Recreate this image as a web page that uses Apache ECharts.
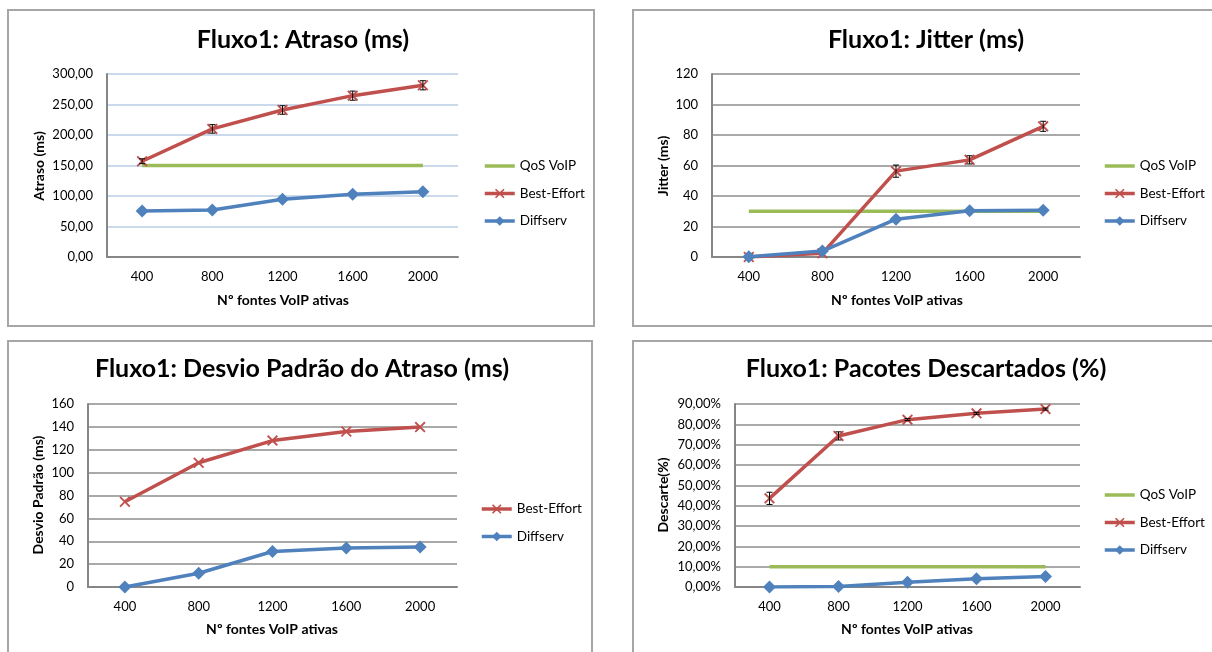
<!DOCTYPE html>
<html>
<head>
<meta charset="utf-8">
<script src="https://cdn.jsdelivr.net/npm/echarts@6/dist/echarts.min.js"></script>
<style>
html,body{margin:0;padding:0;background:#fff;}
#c{width:1212px;height:652px;}
</style>
</head>
<body>
<div id="c"></div>
<script>
// ---- data ----
var categories = ['400', '800', '1200', '1600', '2000'];

// Chart 1: Atraso (ms)
var atrasoQoS = [150, 150, 150, 150, 150];
var atrasoBE = [157, 210, 241, 264.5, 281.5];
var atrasoBEerr = [4, 7, 7, 7.5, 7.5];
var atrasoDS = [75.4, 77, 94.6, 102.8, 107];

// Chart 2: Jitter (ms)
var jitterQoS = [30, 30, 30, 30, 30];
var jitterBE = [0, 2.4, 56.3, 63.7, 85.7];
var jitterBEerr = [0, 0, 4, 2.7, 3.3];
var jitterDS = [0.2, 3.9, 24.8, 30.4, 30.7];

// Chart 3: Desvio Padrão do Atraso (ms)
var desvioBE = [74.5, 108.6, 128, 136, 139.8];
var desvioDS = [0, 12, 31, 34, 35];

// Chart 4: Pacotes Descartados (%)
var descQoS = [10, 10, 10, 10, 10];
var descBE = [43.6, 74.3, 82.3, 85.4, 87.5];
var descBEerr = [3, 2, 0.5, 0.5, 0.5];
var descDS = [0, 0.3, 2.3, 4.1, 5.2];

var titles = ['Fluxo1: Atraso (ms)', 'Fluxo1: Jitter (ms)', 'Fluxo1: Desvio Padrão do Atraso (ms)', 'Fluxo1: Pacotes Descartados (%)'];
var yNames = ['Atraso (ms)', 'Jitter (ms)', 'Desvio Padrão (ms)', 'Descarte(%)'];
var xName = 'Nº fontes VoIP ativas';

// ---- styles ----
var FONT = 'Lato';
var RED = '#c0504d', BLUE = '#4f81bd', GREEN = '#9bbb59';
var XPATH = 'path://M0,1.2L1.2,0L5,3.8L8.8,0L10,1.2L6.2,5L10,8.8L8.8,10L5,6.2L1.2,10L0,8.8L3.8,5Z';

var grids = [
  {left: 107, top: 74, width: 351, height: 183},
  {left: 712, top: 74, width: 368, height: 183},
  {left: 88, top: 404, width: 369, height: 183},
  {left: 735, top: 404, width: 345, height: 183}
];
var yAxes = [
  {min: 0, max: 300, interval: 50, fmt: function (v) { return v.toFixed(2).replace('.', ','); }, grid: '#b9cde5'},
  {min: 0, max: 120, interval: 20, fmt: function (v) { return String(v); }, grid: '#8c8c8c'},
  {min: 0, max: 160, interval: 20, fmt: function (v) { return String(v); }, grid: '#8c8c8c'},
  {min: 0, max: 90, interval: 10, fmt: function (v) { return v.toFixed(2).replace('.', ',') + '%'; }, grid: '#8c8c8c'}
];

var option = {
  animation: false,
  backgroundColor: '#fff',
  textStyle: {fontFamily: FONT},
  grid: grids.map(function (g) { return Object.assign({containLabel: false}, g); }),
  title: [
    {text: titles[0], left: 303, top: 40},
    {text: titles[1], left: 926, top: 40},
    {text: titles[2], left: 302, top: 369},
    {text: titles[3], left: 926, top: 369}
  ].map(function (t) {
    return {text: t.text, left: t.left, top: t.top, textAlign: 'center', textVerticalAlign: 'middle', padding: 0,
      textStyle: {fontFamily: FONT, fontWeight: 'bold', fontSize: 25, color: '#000'}};
  }),
  xAxis: grids.map(function (g, i) {
    return {
      type: 'category', gridIndex: i, data: categories, boundaryGap: true,
      axisLine: {lineStyle: {color: '#868686', width: 2}},
      axisTick: {show: false},
      axisLabel: {fontFamily: FONT, fontSize: 13, color: '#000', margin: 13},
      splitLine: {show: false}
    };
  }),
  yAxis: yAxes.map(function (a, i) {
    return {
      type: 'value', gridIndex: i, min: a.min, max: a.max, interval: a.interval,
      axisLine: {show: true, lineStyle: {color: '#868686', width: 2}},
      axisTick: {show: false},
      axisLabel: {fontFamily: FONT, fontSize: 13, color: '#000', margin: 14, formatter: a.fmt},
      splitLine: {show: true, lineStyle: {color: a.grid, width: 1.5}}
    };
  }),
  legend: [
    {left: 483, top: 158, data: ['QoS VoIP', 'Best-Effort', 'Diffserv']},
    {left: 1103, top: 158, data: ['QoS VoIP', 'Best-Effort', 'Diffserv']},
    {left: 480, top: 501, data: ['Best-Effort', 'Diffserv']},
    {left: 1103, top: 487, data: ['QoS VoIP', 'Best-Effort', 'Diffserv']}
  ].map(function (l) {
    return {left: l.left, top: l.top, orient: 'vertical', padding: 0,
      data: l.data.map(function (n) {
        return n === 'QoS VoIP' ? {name: n, itemStyle: {opacity: 0}} : {name: n};
      }),
      itemWidth: 30, itemHeight: 12, itemGap: 11.5,
      lineStyle: {width: 3.5},
      selectedMode: false,
      textStyle: {fontFamily: FONT, fontSize: 13.5, color: '#000', lineHeight: 16}};
  }),
  graphic: [],
  series: []
};

function qos(i, data) {
  return {name: 'QoS VoIP', type: 'line', xAxisIndex: i, yAxisIndex: i, data: data, symbol: 'none',
    lineStyle: {color: GREEN, width: 3.5}, itemStyle: {color: GREEN}, z: 3};
}
function be(i, data) {
  return {name: 'Best-Effort', type: 'line', xAxisIndex: i, yAxisIndex: i, data: data, symbol: XPATH, symbolSize: 11,
    showSymbol: true, lineStyle: {color: RED, width: 3.5}, itemStyle: {color: RED}, z: 4};
}
function ds(i, data) {
  return {name: 'Diffserv', type: 'line', xAxisIndex: i, yAxisIndex: i, data: data, symbol: 'diamond', symbolSize: 13,
    showSymbol: true, lineStyle: {color: BLUE, width: 3.5}, itemStyle: {color: BLUE}, z: 5};
}
function errBars(i, vals, errs) {
  var d = vals.map(function (v, k) { return [k, v, errs[k]]; }).filter(function (r) { return r[2] > 0; });
  return {
    type: 'custom', xAxisIndex: i, yAxisIndex: i, data: d, z: 6, silent: true,
    renderItem: function (params, api) {
      var x = api.value(0), v = api.value(1), e = api.value(2);
      var hi = api.coord([x, v + e]), lo = api.coord([x, v - e]);
      var w = 3;
      var st = {stroke: '#000', lineWidth: 1};
      return {type: 'group', children: [
        {type: 'line', shape: {x1: hi[0], y1: hi[1], x2: lo[0], y2: lo[1]}, style: st},
        {type: 'line', shape: {x1: hi[0] - w, y1: hi[1], x2: hi[0] + w, y2: hi[1]}, style: st},
        {type: 'line', shape: {x1: lo[0] - w, y1: lo[1], x2: lo[0] + w, y2: lo[1]}, style: st}
      ]};
    }
  };
}

option.series.push(qos(0, atrasoQoS), be(0, atrasoBE), ds(0, atrasoDS), errBars(0, atrasoBE, atrasoBEerr));
option.series.push(qos(1, jitterQoS), be(1, jitterBE), ds(1, jitterDS), errBars(1, jitterBE, jitterBEerr));
option.series.push(be(2, desvioBE), ds(2, desvioDS));
option.series.push(qos(3, descQoS), be(3, descBE), ds(3, descDS), errBars(3, descBE, descBEerr));

// frames
var frames = [
  {x: 8, y: 10, w: 586, h: 316},
  {x: 633, y: 10, w: 590, h: 316},
  {x: 8, y: 341, w: 584, h: 330},
  {x: 633, y: 341, w: 590, h: 330}
];
frames.forEach(function (f) {
  option.graphic.push({type: 'rect', shape: {x: f.x, y: f.y, width: f.w, height: f.h},
    style: {fill: 'none', stroke: '#a6a6a6', lineWidth: 2}, silent: true, z: -10});
});
// axis names
var yNamePos = [[39, 166], [663, 166], [38, 495], [663, 495]];
var xNamePos = [[283, 300], [897, 300], [272, 629], [907, 629]];
yNamePos.forEach(function (p, i) {
  option.graphic.push({type: 'text', x: p[0], y: p[1], rotation: Math.PI / 2,
    style: {text: yNames[i], fontFamily: FONT, fontWeight: 'bold', fontSize: 14, fill: '#000', align: 'center', verticalAlign: 'middle'}});
});
xNamePos.forEach(function (p, i) {
  option.graphic.push({type: 'text', x: p[0], y: p[1],
    style: {text: xName, fontFamily: FONT, fontWeight: 'bold', fontSize: 14, fill: '#000', align: 'center', verticalAlign: 'middle'}});
});

var chart = echarts.init(document.getElementById('c'), null, {renderer: 'canvas'});
chart.setOption(option);
</script>
</body>
</html>
